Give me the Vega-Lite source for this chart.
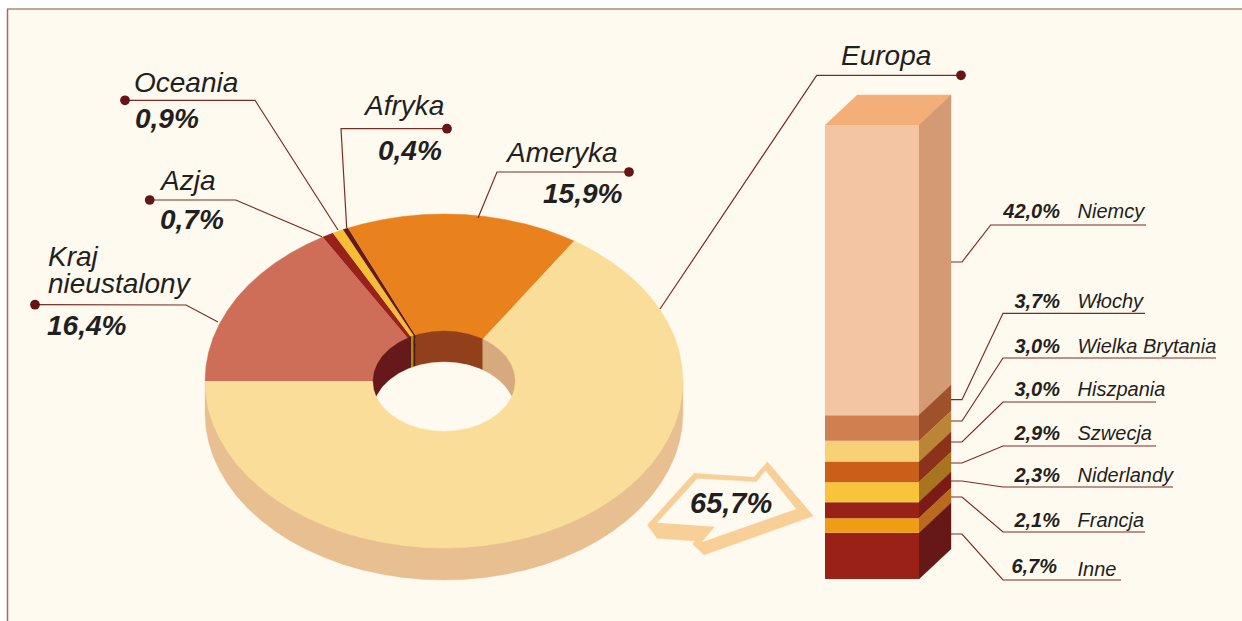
{"$schema":"https://vega.github.io/schema/vega-lite/v6.json","width":1242,"height":621,"padding":0,"autosize":{"type":"none"},"background":"#ffffff","view":{"stroke":null},
"datasets":{
"panel":[{"name":"tlo"}],
"europa":[{"kraj":"Inne","udzial":6.7,"rank":1},{"kraj":"Francja","udzial":2.1,"rank":2},{"kraj":"Niderlandy","udzial":2.3,"rank":3},{"kraj":"Szwecja","udzial":2.9,"rank":4},{"kraj":"Hiszpania","udzial":3.0,"rank":5},{"kraj":"Wielka Brytania","udzial":3.0,"rank":6},{"kraj":"Włochy","udzial":3.7,"rank":7},{"kraj":"Niemcy","udzial":42.0,"rank":8}],
"shapes":[
{"part":"side","x":205,"y":381},{"part":"side","x":205,"y":413},{"part":"side","x":205.9,"y":427.6},{"part":"side","x":208.6,"y":442},{"part":"side","x":213.1,"y":456.2},{"part":"side","x":219.4,"y":470.1},{"part":"side","x":227.4,"y":483.6},{"part":"side","x":237,"y":496.5},{"part":"side","x":248.2,"y":508.8},{"part":"side","x":260.9,"y":520.3},{"part":"side","x":275,"y":531.1},{"part":"side","x":290.4,"y":540.9},{"part":"side","x":306.9,"y":549.8},{"part":"side","x":324.5,"y":557.6},{"part":"side","x":343,"y":564.4},{"part":"side","x":362.3,"y":569.9},{"part":"side","x":382.1,"y":574.3},{"part":"side","x":402.5,"y":577.5},{"part":"side","x":423.2,"y":579.4},{"part":"side","x":444,"y":580},{"part":"side","x":464.8,"y":579.4},{"part":"side","x":485.5,"y":577.5},{"part":"side","x":505.9,"y":574.3},{"part":"side","x":525.7,"y":569.9},{"part":"side","x":545,"y":564.4},{"part":"side","x":563.5,"y":557.6},{"part":"side","x":581.1,"y":549.8},{"part":"side","x":597.6,"y":540.9},{"part":"side","x":613,"y":531.1},{"part":"side","x":627.1,"y":520.3},{"part":"side","x":639.8,"y":508.8},{"part":"side","x":651,"y":496.5},{"part":"side","x":660.6,"y":483.6},{"part":"side","x":668.6,"y":470.1},{"part":"side","x":674.9,"y":456.2},{"part":"side","x":679.4,"y":442},{"part":"side","x":682.1,"y":427.6},{"part":"side","x":683,"y":413},{"part":"side","x":683,"y":381},
{"part":"Kraj nieustalony","x":444,"y":381},{"part":"Kraj nieustalony","x":322.7,"y":237.1},{"part":"Kraj nieustalony","x":306.9,"y":244.2},{"part":"Kraj nieustalony","x":290.4,"y":253.1},{"part":"Kraj nieustalony","x":275,"y":262.9},{"part":"Kraj nieustalony","x":260.9,"y":273.7},{"part":"Kraj nieustalony","x":248.2,"y":285.2},{"part":"Kraj nieustalony","x":237,"y":297.5},{"part":"Kraj nieustalony","x":227.4,"y":310.4},{"part":"Kraj nieustalony","x":219.4,"y":323.9},{"part":"Kraj nieustalony","x":213.1,"y":337.8},{"part":"Kraj nieustalony","x":208.6,"y":352},{"part":"Kraj nieustalony","x":205.9,"y":366.4},{"part":"Kraj nieustalony","x":205,"y":381},
{"part":"Azja","x":444,"y":381},{"part":"Azja","x":332.9,"y":233.1},{"part":"Azja","x":322.7,"y":237.1},
{"part":"Oceania","x":444,"y":381},{"part":"Oceania","x":343,"y":229.6},{"part":"Oceania","x":332.9,"y":233.1},
{"part":"Afryka","x":444,"y":381},{"part":"Afryka","x":348,"y":228.1},{"part":"Afryka","x":343,"y":229.6},
{"part":"Ameryka","x":444,"y":381},{"part":"Ameryka","x":574.2,"y":240.9},{"part":"Ameryka","x":563.5,"y":236.4},{"part":"Ameryka","x":545,"y":229.6},{"part":"Ameryka","x":525.7,"y":224.1},{"part":"Ameryka","x":505.9,"y":219.7},{"part":"Ameryka","x":485.5,"y":216.5},{"part":"Ameryka","x":464.8,"y":214.6},{"part":"Ameryka","x":444,"y":214},{"part":"Ameryka","x":423.2,"y":214.6},{"part":"Ameryka","x":402.5,"y":216.5},{"part":"Ameryka","x":382.1,"y":219.7},{"part":"Ameryka","x":362.3,"y":224.1},{"part":"Ameryka","x":348,"y":228.1},
{"part":"Europa","x":444,"y":381},{"part":"Europa","x":574.2,"y":240.9},{"part":"Europa","x":581.1,"y":244.2},{"part":"Europa","x":597.6,"y":253.1},{"part":"Europa","x":613,"y":262.9},{"part":"Europa","x":627.1,"y":273.7},{"part":"Europa","x":639.8,"y":285.2},{"part":"Europa","x":651,"y":297.5},{"part":"Europa","x":660.6,"y":310.4},{"part":"Europa","x":668.6,"y":323.9},{"part":"Europa","x":674.9,"y":337.8},{"part":"Europa","x":679.4,"y":352},{"part":"Europa","x":682.1,"y":366.4},{"part":"Europa","x":683,"y":381},{"part":"Europa","x":682.1,"y":395.6},{"part":"Europa","x":679.4,"y":410},{"part":"Europa","x":674.9,"y":424.2},{"part":"Europa","x":668.6,"y":438.1},{"part":"Europa","x":660.6,"y":451.6},{"part":"Europa","x":651,"y":464.5},{"part":"Europa","x":639.8,"y":476.8},{"part":"Europa","x":627.1,"y":488.3},{"part":"Europa","x":613,"y":499.1},{"part":"Europa","x":597.6,"y":508.9},{"part":"Europa","x":581.1,"y":517.8},{"part":"Europa","x":563.5,"y":525.6},{"part":"Europa","x":545,"y":532.4},{"part":"Europa","x":525.7,"y":537.9},{"part":"Europa","x":505.9,"y":542.3},{"part":"Europa","x":485.5,"y":545.5},{"part":"Europa","x":464.8,"y":547.4},{"part":"Europa","x":444,"y":548},{"part":"Europa","x":423.2,"y":547.4},{"part":"Europa","x":402.5,"y":545.5},{"part":"Europa","x":382.1,"y":542.3},{"part":"Europa","x":362.3,"y":537.9},{"part":"Europa","x":343,"y":532.4},{"part":"Europa","x":324.5,"y":525.6},{"part":"Europa","x":306.9,"y":517.8},{"part":"Europa","x":290.4,"y":508.9},{"part":"Europa","x":275,"y":499.1},{"part":"Europa","x":260.9,"y":488.3},{"part":"Europa","x":248.2,"y":476.8},{"part":"Europa","x":237,"y":464.5},{"part":"Europa","x":227.4,"y":451.6},{"part":"Europa","x":219.4,"y":438.1},{"part":"Europa","x":213.1,"y":424.2},{"part":"Europa","x":208.6,"y":410},{"part":"Europa","x":205.9,"y":395.6},{"part":"Europa","x":205,"y":381},
{"part":"wall left","x":408,"y":337.9},{"part":"wall left","x":398.4,"y":342.7},{"part":"wall left","x":389.6,"y":348.9},{"part":"wall left","x":382.5,"y":356},{"part":"wall left","x":377.3,"y":363.9},{"part":"wall left","x":374.1,"y":372.3},{"part":"wall left","x":373,"y":381},{"part":"wall left","x":374.1,"y":389.7},{"part":"wall left","x":376.5,"y":396.5},{"part":"wall left","x":377.3,"y":394.9},{"part":"wall left","x":382.5,"y":387},{"part":"wall left","x":389.6,"y":379.9},{"part":"wall left","x":398.4,"y":373.7},{"part":"wall left","x":408,"y":368.9},
{"part":"wall strip 1","x":408,"y":337.9},{"part":"wall strip 1","x":411,"y":336.5},{"part":"wall strip 1","x":411,"y":367.5},{"part":"wall strip 1","x":408,"y":368.9},
{"part":"wall strip 2","x":411,"y":336.5},{"part":"wall strip 2","x":413.5,"y":335.8},{"part":"wall strip 2","x":413.5,"y":366.5},{"part":"wall strip 2","x":411,"y":367.5},
{"part":"wall strip 3","x":413.5,"y":335.8},{"part":"wall strip 3","x":415.5,"y":335.2},{"part":"wall strip 3","x":415.5,"y":366},{"part":"wall strip 3","x":413.5,"y":366.5},
{"part":"wall Ameryka","x":415.5,"y":335.2},{"part":"wall Ameryka","x":419.7,"y":334},{"part":"wall Ameryka","x":431.7,"y":331.8},{"part":"wall Ameryka","x":444,"y":331},{"part":"wall Ameryka","x":456.3,"y":331.8},{"part":"wall Ameryka","x":468.3,"y":334},{"part":"wall Ameryka","x":479.5,"y":337.7},{"part":"wall Ameryka","x":482.7,"y":339.1},{"part":"wall Ameryka","x":482.7,"y":370.1},{"part":"wall Ameryka","x":479.5,"y":368.7},{"part":"wall Ameryka","x":468.3,"y":365},{"part":"wall Ameryka","x":456.3,"y":362.8},{"part":"wall Ameryka","x":444,"y":362},{"part":"wall Ameryka","x":431.7,"y":362.8},{"part":"wall Ameryka","x":419.7,"y":365},{"part":"wall Ameryka","x":415.5,"y":366},
{"part":"wall Europa","x":482.7,"y":339.1},{"part":"wall Europa","x":489.6,"y":342.7},{"part":"wall Europa","x":498.4,"y":348.9},{"part":"wall Europa","x":505.5,"y":356},{"part":"wall Europa","x":510.7,"y":363.9},{"part":"wall Europa","x":513.9,"y":372.3},{"part":"wall Europa","x":515,"y":381},{"part":"wall Europa","x":513.9,"y":389.7},{"part":"wall Europa","x":511.5,"y":396.5},{"part":"wall Europa","x":510.7,"y":394.9},{"part":"wall Europa","x":505.5,"y":387},{"part":"wall Europa","x":498.4,"y":379.9},{"part":"wall Europa","x":489.6,"y":373.7},{"part":"wall Europa","x":482.7,"y":370.1},
{"part":"hole","x":376.5,"y":396.5},{"part":"hole","x":377.3,"y":394.9},{"part":"hole","x":382.5,"y":387},{"part":"hole","x":389.6,"y":379.9},{"part":"hole","x":398.4,"y":373.7},{"part":"hole","x":408.5,"y":368.7},{"part":"hole","x":419.7,"y":365},{"part":"hole","x":431.7,"y":362.8},{"part":"hole","x":444,"y":362},{"part":"hole","x":456.3,"y":362.8},{"part":"hole","x":468.3,"y":365},{"part":"hole","x":479.5,"y":368.7},{"part":"hole","x":489.6,"y":373.7},{"part":"hole","x":498.4,"y":379.9},{"part":"hole","x":505.5,"y":387},{"part":"hole","x":510.7,"y":394.9},{"part":"hole","x":511.5,"y":396.5},{"part":"hole","x":510.7,"y":398.1},{"part":"hole","x":505.5,"y":406},{"part":"hole","x":498.4,"y":413.1},{"part":"hole","x":489.6,"y":419.3},{"part":"hole","x":479.5,"y":424.3},{"part":"hole","x":468.3,"y":428},{"part":"hole","x":456.3,"y":430.2},{"part":"hole","x":444,"y":431},{"part":"hole","x":431.7,"y":430.2},{"part":"hole","x":419.7,"y":428},{"part":"hole","x":408.5,"y":424.3},{"part":"hole","x":398.4,"y":419.3},{"part":"hole","x":389.6,"y":413.1},{"part":"hole","x":382.5,"y":406},{"part":"hole","x":377.3,"y":398.1},
{"part":"arrow outer","x":647.3,"y":525},{"part":"arrow outer","x":694,"y":473.3},{"part":"arrow outer","x":754,"y":477.3},{"part":"arrow outer","x":767.3,"y":461.7},{"part":"arrow outer","x":813.3,"y":516},{"part":"arrow outer","x":704,"y":555},{"part":"arrow outer","x":692.7,"y":544},{"part":"arrow outer","x":695,"y":541},{"part":"arrow outer","x":656.7,"y":538.3},
{"part":"arrow inner","x":657.3,"y":522.7},{"part":"arrow inner","x":697.3,"y":478.7},{"part":"arrow inner","x":756.7,"y":482},{"part":"arrow inner","x":765.3,"y":470.7},{"part":"arrow inner","x":796,"y":509},{"part":"arrow inner","x":702.3,"y":541.7},{"part":"arrow inner","x":715,"y":526.7},
{"part":"top","x":825,"y":125},{"part":"top","x":919,"y":125},{"part":"top","x":951,"y":95},{"part":"top","x":857,"y":95},
{"part":"side Niemcy","x":919,"y":125},{"part":"side Niemcy","x":951,"y":95},{"part":"side Niemcy","x":951,"y":385},{"part":"side Niemcy","x":919,"y":415},
{"part":"side Włochy","x":919,"y":415},{"part":"side Włochy","x":951,"y":385},{"part":"side Włochy","x":951,"y":411},{"part":"side Włochy","x":919,"y":441},
{"part":"side Wielka Brytania","x":919,"y":441},{"part":"side Wielka Brytania","x":951,"y":411},{"part":"side Wielka Brytania","x":951,"y":432},{"part":"side Wielka Brytania","x":919,"y":462},
{"part":"side Hiszpania","x":919,"y":462},{"part":"side Hiszpania","x":951,"y":432},{"part":"side Hiszpania","x":951,"y":452},{"part":"side Hiszpania","x":919,"y":482},
{"part":"side Szwecja","x":919,"y":482},{"part":"side Szwecja","x":951,"y":452},{"part":"side Szwecja","x":951,"y":472},{"part":"side Szwecja","x":919,"y":502},
{"part":"side Niderlandy","x":919,"y":502},{"part":"side Niderlandy","x":951,"y":472},{"part":"side Niderlandy","x":951,"y":488},{"part":"side Niderlandy","x":919,"y":518},
{"part":"side Francja","x":919,"y":518},{"part":"side Francja","x":951,"y":488},{"part":"side Francja","x":951,"y":503},{"part":"side Francja","x":919,"y":533},
{"part":"side Inne","x":919,"y":533},{"part":"side Inne","x":951,"y":503},{"part":"side Inne","x":951,"y":549},{"part":"side Inne","x":919,"y":579}
],
"leaders":[
{"l":"Oceania","x":125,"y":100.3},{"l":"Oceania","x":255,"y":100.3},{"l":"Oceania","x":338,"y":230},
{"l":"Afryka","x":447,"y":128.7},{"l":"Afryka","x":341,"y":128.7},{"l":"Afryka","x":346.7,"y":228},
{"l":"Azja","x":149.7,"y":200},{"l":"Azja","x":235.7,"y":200},{"l":"Azja","x":322,"y":236.7},
{"l":"Kraj","x":35,"y":304.7},{"l":"Kraj","x":186,"y":305},{"l":"Kraj","x":218,"y":322},
{"l":"Ameryka","x":629,"y":172},{"l":"Ameryka","x":497,"y":172},{"l":"Ameryka","x":478,"y":218},
{"l":"Europa","x":961,"y":75.3},{"l":"Europa","x":816.7,"y":75.3},{"l":"Europa","x":660,"y":309},
{"l":"Niemcy","x":951,"y":262},{"l":"Niemcy","x":962,"y":262},{"l":"Niemcy","x":990.7,"y":225},{"l":"Niemcy","x":1146,"y":225},
{"l":"Włochy","x":951,"y":399.7},{"l":"Włochy","x":962,"y":399.7},{"l":"Włochy","x":1003,"y":313.3},{"l":"Włochy","x":1145,"y":313.3},
{"l":"Wielka Brytania","x":951,"y":421},{"l":"Wielka Brytania","x":962,"y":421},{"l":"Wielka Brytania","x":1003,"y":358},{"l":"Wielka Brytania","x":1216,"y":358},
{"l":"Hiszpania","x":951,"y":442},{"l":"Hiszpania","x":962,"y":442},{"l":"Hiszpania","x":1003,"y":402},{"l":"Hiszpania","x":1156,"y":402},
{"l":"Szwecja","x":951,"y":463},{"l":"Szwecja","x":962,"y":463},{"l":"Szwecja","x":1003,"y":446},{"l":"Szwecja","x":1156,"y":446},
{"l":"Niderlandy","x":951,"y":481},{"l":"Niderlandy","x":962,"y":481},{"l":"Niderlandy","x":1003,"y":487},{"l":"Niderlandy","x":1173,"y":487},
{"l":"Francja","x":951,"y":497},{"l":"Francja","x":962,"y":497},{"l":"Francja","x":1003,"y":532},{"l":"Francja","x":1145,"y":532},
{"l":"Inne","x":951,"y":534},{"l":"Inne","x":962,"y":534},{"l":"Inne","x":1003,"y":580},{"l":"Inne","x":1121,"y":580}
],
"dots":[{"x":125,"y":100.3},{"x":447,"y":128.7},{"x":149.7,"y":200},{"x":35,"y":304.7},{"x":629,"y":172},{"x":961,"y":75.3}],
"labels":[
{"t":"Oceania","k":"name","x":134,"y":91.7},{"t":"Afryka","k":"name","x":365,"y":115},{"t":"Azja","k":"name","x":161,"y":190},{"t":"Kraj","k":"name","x":48,"y":265.7},{"t":"nieustalony","k":"name","x":48,"y":293},{"t":"Ameryka","k":"name","x":507,"y":162},{"t":"Europa","k":"name","x":841,"y":65},
{"t":"0,9%","k":"value","x":135,"y":128},{"t":"0,4%","k":"value","x":378,"y":160},{"t":"0,7%","k":"value","x":160,"y":229},{"t":"16,4%","k":"value","x":47,"y":334.7},{"t":"15,9%","k":"value","x":543,"y":203},
{"t":"65,7%","k":"arrow","x":690,"y":512.7},
{"t":"Niemcy","k":"small","x":1077.5,"y":218},{"t":"Włochy","k":"small","x":1077.5,"y":308},{"t":"Wielka Brytania","k":"small","x":1077.5,"y":352.7},{"t":"Hiszpania","k":"small","x":1077.5,"y":395.7},{"t":"Szwecja","k":"small","x":1077.5,"y":440},{"t":"Niderlandy","k":"small","x":1077.5,"y":481.7},{"t":"Francja","k":"small","x":1077.5,"y":527},{"t":"Inne","k":"small","x":1077.5,"y":576},
{"t":"42,0%","k":"smallvalue","x":1060,"y":218},{"t":"3,7%","k":"smallvalue","x":1060,"y":308},{"t":"3,0%","k":"smallvalue","x":1060,"y":352.7},{"t":"3,0%","k":"smallvalue","x":1060,"y":395.7},{"t":"2,9%","k":"smallvalue","x":1060,"y":440},{"t":"2,3%","k":"smallvalue","x":1060,"y":481.7},{"t":"2,1%","k":"smallvalue","x":1060,"y":527},{"t":"6,7%","k":"smallvalue","x":1057,"y":573}
]},
"resolve":{"scale":{"y":"independent","fill":"independent","stroke":"independent"}},
"layer":[
{"data":{"name":"panel"},"mark":{"type":"rect","fill":"#fffaf0"},"encoding":{"x":{"datum":8,"type":"quantitative","scale":{"domain":[0,1242],"nice":false,"zero":false},"axis":null},"x2":{"datum":1242},"y":{"datum":9,"type":"quantitative","scale":{"domain":[621,0],"nice":false,"zero":false},"axis":null},"y2":{"datum":621}}},
{"data":{"name":"panel"},"mark":{"type":"rule","stroke":"#c4a593","strokeWidth":2},"encoding":{"x":{"datum":7,"type":"quantitative","scale":{"domain":[0,1242],"nice":false,"zero":false},"axis":null},"x2":{"datum":1242},"y":{"datum":9,"type":"quantitative","scale":{"domain":[621,0],"nice":false,"zero":false},"axis":null}}},
{"data":{"name":"panel"},"mark":{"type":"rule","stroke":"#a56a60","strokeWidth":1.5},"encoding":{"x":{"datum":7.5,"type":"quantitative","scale":{"domain":[0,1242],"nice":false,"zero":false},"axis":null},"y":{"datum":9,"type":"quantitative","scale":{"domain":[621,0],"nice":false,"zero":false},"axis":null},"y2":{"datum":621}}},
{"data":{"name":"shapes"},"mark":{"type":"line","order":false,"strokeWidth":0.4,"strokeJoin":"round"},"encoding":{
"x":{"field":"x","type":"quantitative","scale":{"domain":[0,1242],"nice":false,"zero":false},"axis":null},
"y":{"field":"y","type":"quantitative","scale":{"domain":[621,0],"nice":false,"zero":false},"axis":null},
"fill":{"field":"part","type":"nominal","legend":null,"scale":{"domain":["side","Kraj nieustalony","Azja","Oceania","Afryka","Ameryka","Europa","wall left","wall strip 1","wall strip 2","wall strip 3","wall Ameryka","wall Europa","hole","arrow outer","arrow inner","top","side Niemcy","side Włochy","side Wielka Brytania","side Hiszpania","side Szwecja","side Niderlandy","side Francja","side Inne"],"range":["#e8bf90","#ce6e58","#98211a","#f6bd37","#66181a","#e9811c","#fadd98","#66181a","#5a1f18","#c07a20","#3a2018","#923f1b","#d7a97e","#fffaf0","#f8d097","#fffaf0","#f4af78","#d49a74","#9e522c","#bb8535","#8c311a","#a9741f","#7c1a15","#b96a1f","#661816"]}},
"stroke":{"field":"part","type":"nominal","legend":null,"scale":{"domain":["side","Kraj nieustalony","Azja","Oceania","Afryka","Ameryka","Europa","wall left","wall strip 1","wall strip 2","wall strip 3","wall Ameryka","wall Europa","hole","arrow outer","arrow inner","top","side Niemcy","side Włochy","side Wielka Brytania","side Hiszpania","side Szwecja","side Niderlandy","side Francja","side Inne"],"range":["#e8bf90","#ce6e58","#98211a","#f6bd37","#66181a","#e9811c","#fadd98","#66181a","#5a1f18","#c07a20","#3a2018","#923f1b","#d7a97e","#fffaf0","#f8d097","#fffaf0","#f4af78","#d49a74","#9e522c","#bb8535","#8c311a","#a9741f","#7c1a15","#b96a1f","#661816"]}}}},
{"data":{"name":"europa"},"transform":[{"stack":"udzial","groupby":[],"sort":[{"field":"rank","order":"ascending"}],"as":["y0","y1"]}],"mark":{"type":"rect"},"encoding":{
"x":{"datum":825,"type":"quantitative","scale":{"domain":[0,1242],"nice":false,"zero":false},"axis":null},"x2":{"datum":919},
"y":{"field":"y0","type":"quantitative","scale":{"domain":[-6.078,83.79],"nice":false,"zero":false},"axis":null},"y2":{"field":"y1"},
"fill":{"field":"kraj","type":"nominal","legend":null,"scale":{"domain":["Inne","Francja","Niderlandy","Szwecja","Hiszpania","Wielka Brytania","Włochy","Niemcy"],"range":["#9a2118","#ee9d14","#9a2118","#f7c43a","#c95f19","#f8d176","#d07f50","#f3c5a3"]}}}},
{"data":{"name":"leaders"},"mark":{"type":"line","order":false,"stroke":"#7a2c24","strokeWidth":1.2},"encoding":{
"x":{"field":"x","type":"quantitative","scale":{"domain":[0,1242],"nice":false,"zero":false},"axis":null},
"y":{"field":"y","type":"quantitative","scale":{"domain":[621,0],"nice":false,"zero":false},"axis":null},
"detail":{"field":"l","type":"nominal"}}},
{"data":{"name":"dots"},"mark":{"type":"point","filled":true,"shape":"circle","size":95,"fill":"#661516","opacity":1},"encoding":{
"x":{"field":"x","type":"quantitative","scale":{"domain":[0,1242],"nice":false,"zero":false},"axis":null},
"y":{"field":"y","type":"quantitative","scale":{"domain":[621,0],"nice":false,"zero":false},"axis":null}}},
{"data":{"name":"labels"},"transform":[{"filter":"datum.k==='name'"}],"mark":{"type":"text","font":"Liberation Sans","fontStyle":"italic","fontSize":28,"align":"left","baseline":"alphabetic","fill":"#231f20"},"encoding":{"x":{"field":"x","type":"quantitative","scale":{"domain":[0,1242],"nice":false,"zero":false},"axis":null},"y":{"field":"y","type":"quantitative","scale":{"domain":[621,0],"nice":false,"zero":false},"axis":null},"text":{"field":"t"}}},
{"data":{"name":"labels"},"transform":[{"filter":"datum.k==='value'"}],"mark":{"type":"text","font":"Liberation Sans","fontStyle":"italic","fontWeight":"bold","fontSize":28,"align":"left","baseline":"alphabetic","fill":"#231f20"},"encoding":{"x":{"field":"x","type":"quantitative","scale":{"domain":[0,1242],"nice":false,"zero":false},"axis":null},"y":{"field":"y","type":"quantitative","scale":{"domain":[621,0],"nice":false,"zero":false},"axis":null},"text":{"field":"t"}}},
{"data":{"name":"labels"},"transform":[{"filter":"datum.k==='arrow'"}],"mark":{"type":"text","font":"Liberation Sans","fontStyle":"italic","fontWeight":"bold","fontSize":29,"align":"left","baseline":"alphabetic","fill":"#231f20"},"encoding":{"x":{"field":"x","type":"quantitative","scale":{"domain":[0,1242],"nice":false,"zero":false},"axis":null},"y":{"field":"y","type":"quantitative","scale":{"domain":[621,0],"nice":false,"zero":false},"axis":null},"text":{"field":"t"}}},
{"data":{"name":"labels"},"transform":[{"filter":"datum.k==='small'"}],"mark":{"type":"text","font":"Liberation Sans","fontStyle":"italic","fontSize":20,"align":"left","baseline":"alphabetic","fill":"#231f20"},"encoding":{"x":{"field":"x","type":"quantitative","scale":{"domain":[0,1242],"nice":false,"zero":false},"axis":null},"y":{"field":"y","type":"quantitative","scale":{"domain":[621,0],"nice":false,"zero":false},"axis":null},"text":{"field":"t"}}},
{"data":{"name":"labels"},"transform":[{"filter":"datum.k==='smallvalue'"}],"mark":{"type":"text","font":"Liberation Sans","fontStyle":"italic","fontWeight":"bold","fontSize":20,"align":"right","baseline":"alphabetic","fill":"#231f20"},"encoding":{"x":{"field":"x","type":"quantitative","scale":{"domain":[0,1242],"nice":false,"zero":false},"axis":null},"y":{"field":"y","type":"quantitative","scale":{"domain":[621,0],"nice":false,"zero":false},"axis":null},"text":{"field":"t"}}}
]}
